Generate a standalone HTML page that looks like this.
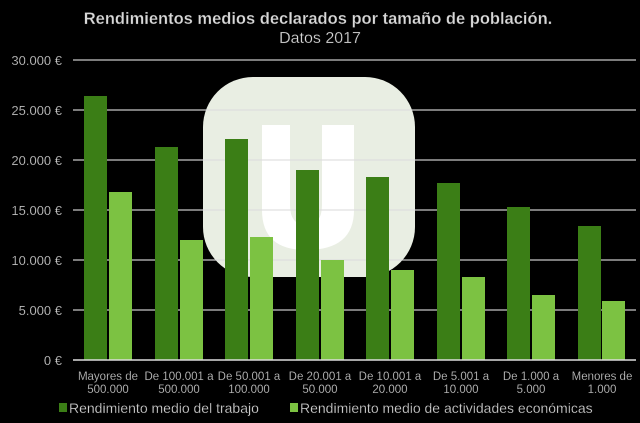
<!DOCTYPE html>
<html><head><meta charset="utf-8"><style>
body{margin:0;background:#000;}
svg text{font-family:"Liberation Sans",sans-serif;fill:#d8d8d8;stroke:#222;stroke-width:0.3;}
</style></head><body>
<svg width="640" height="418" viewBox="0 0 640 418" xmlns="http://www.w3.org/2000/svg">
<rect width="640" height="418" fill="#000"/>
<rect x="203" y="77" width="212" height="200" rx="50" fill="#e9eee3"/>
<path d="M262 125h28v80q0 20 16 20q16 0 16-20v-80h32v85q0 40-48 40q-44 0-44-40z" fill="#fff"/>
<g stroke="#ddd" stroke-width="1.2" opacity="0.9">
<line x1="73" y1="60" x2="636" y2="60"/><line x1="73" y1="110" x2="636" y2="110"/>
<line x1="73" y1="160" x2="636" y2="160"/><line x1="73" y1="210" x2="636" y2="210"/>
<line x1="73" y1="260" x2="636" y2="260"/><line x1="73" y1="310" x2="636" y2="310"/>
</g>
<g fill="#3b7e16">
<rect x="84" y="96" width="23" height="264"/><rect x="155" y="147" width="23" height="213"/>
<rect x="225" y="139" width="23" height="221"/><rect x="296" y="170" width="23" height="190"/>
<rect x="366" y="177" width="23" height="183"/><rect x="437" y="183" width="23" height="177"/>
<rect x="507" y="207" width="23" height="153"/><rect x="578" y="226" width="23" height="134"/>
</g>
<g fill="#7cc242">
<rect x="109" y="192" width="23" height="168"/><rect x="180" y="240" width="23" height="120"/>
<rect x="250" y="237" width="23" height="123"/><rect x="321" y="260" width="23" height="100"/>
<rect x="391" y="270" width="23" height="90"/><rect x="462" y="277" width="23" height="83"/>
<rect x="532" y="295" width="23" height="65"/><rect x="602" y="301" width="23" height="59"/>
</g>
<line x1="73" y1="360" x2="636" y2="360" stroke="#ddd" stroke-width="1.5"/>
<text x="318" y="24" font-size="16.5" font-weight="bold" text-anchor="middle">Rendimientos medios declarados por tamaño de población.</text>
<text x="320" y="43" font-size="16" text-anchor="middle">Datos 2017</text>
<g font-size="13" text-anchor="end">
<text x="62" y="65">30.000 €</text><text x="62" y="115">25.000 €</text>
<text x="62" y="165">20.000 €</text><text x="62" y="215">15.000 €</text>
<text x="62" y="265">10.000 €</text><text x="62" y="315">5.000 €</text><text x="62" y="365">0 €</text>
</g>
<g font-size="11.5" text-anchor="middle">
<text x="108" y="380">Mayores de</text><text x="108" y="393">500.000</text>
<text x="179" y="380">De 100.001 a</text><text x="179" y="393">500.000</text>
<text x="249" y="380">De 50.001 a</text><text x="249" y="393">100.000</text>
<text x="320" y="380">De 20.001 a</text><text x="320" y="393">50.000</text>
<text x="390" y="380">De 10.001 a</text><text x="390" y="393">20.000</text>
<text x="461" y="380">De 5.001 a</text><text x="461" y="393">10.000</text>
<text x="531" y="380">De 1.000 a</text><text x="531" y="393">5.000</text>
<text x="602" y="380">Menores de</text><text x="602" y="393">1.000</text>
</g>
<rect x="59" y="403" width="8" height="9" fill="#3b7e16"/>
<text x="69" y="413" font-size="14">Rendimiento medio del trabajo</text>
<rect x="290" y="403" width="8" height="9" fill="#7cc242"/>
<text x="300" y="413" font-size="14">Rendimiento medio de actividades económicas</text>
</svg>
</body></html>
